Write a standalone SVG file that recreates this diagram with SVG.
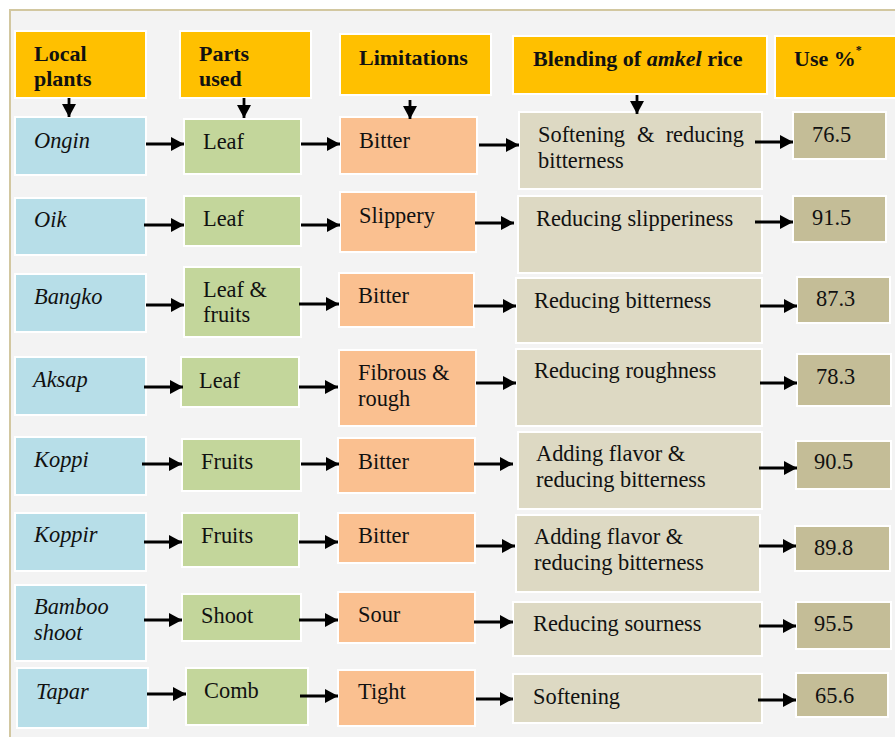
<svg xmlns="http://www.w3.org/2000/svg" width="895" height="737" viewBox="0 0 895 737">
<defs>
<marker id="ah" markerUnits="userSpaceOnUse" markerWidth="14" markerHeight="14" refX="13" refY="7" orient="auto">
<path d="M0,0 L13,7 L0,14 z" fill="#000"/>
</marker>
<style>
rect.b{stroke:#fff;stroke-width:2}
.h{fill:#FFC000}
.p{fill:#B7DEE8}
.g{fill:#C3D69B}
.o{fill:#FAC090}
.e{fill:#DDD9C3}
.u{fill:#C4BD97}
text{font-family:"Liberation Serif","Times New Roman",serif;font-size:22.4px;fill:#111}
text.hd{font-weight:bold;font-size:22px}
text.it{font-style:italic}
#conn line{stroke:#000;stroke-width:2.8;marker-end:url(#ah)}
</style>
</defs>
<rect x="0" y="0" width="895" height="737" fill="#fff"/>
<rect x="10" y="10" width="900" height="740" fill="#F3F3F3" stroke="#D2C7A0" stroke-width="2"/>

<g id="h-local"><rect class="b h" x="15" y="31" width="131" height="67"/><text class="hd" x="34" y="61">Local</text><text class="hd" x="34" y="86">plants</text></g>
<g id="h-parts"><rect class="b h" x="180" y="31" width="131" height="67"/><text class="hd" x="199" y="61">Parts</text><text class="hd" x="199" y="86">used</text></g>
<g id="h-lim"><rect class="b h" x="340" y="34" width="151" height="61"/><text class="hd" x="359" y="65">Limitations</text></g>
<g id="h-blend"><rect class="b h" x="513" y="36" width="254" height="58"/><text class="hd" x="533" y="66">Blending of <tspan font-style="italic">amkel</tspan> rice</text></g>
<g id="h-use"><rect class="b h" x="775" y="36" width="130" height="62"/><text class="hd" x="794" y="66">Use %<tspan font-size="12" dy="-12">*</tspan></text></g>

<g id="r1-plant"><rect class="b p" x="15" y="117" width="131" height="58"/><text class="it" x="34" y="148">Ongin</text></g>
<g id="r1-part"><rect class="b g" x="184" y="119" width="117" height="55"/><text x="203" y="149">Leaf</text></g>
<g id="r1-lim"><rect class="b o" x="340" y="117" width="137" height="57"/><text x="359" y="148">Bitter</text></g>
<g id="r1-blend"><rect class="b e" x="519" y="112" width="243" height="77"/><text x="538" y="142">Softening</text><text x="637" y="142">&amp;</text><text x="744" y="142" text-anchor="end">reducing</text><text x="538" y="168">bitterness</text></g>
<g id="r1-use"><rect class="b u" x="793" y="112" width="93" height="47"/><text x="812" y="142">76.5</text></g>

<g id="r2-plant"><rect class="b p" x="15" y="198" width="131" height="57"/><text class="it" x="34" y="227">Oik</text></g>
<g id="r2-part"><rect class="b g" x="184" y="196" width="117" height="50"/><text x="203" y="226">Leaf</text></g>
<g id="r2-lim"><rect class="b o" x="340" y="192" width="136" height="60"/><text x="359" y="223">Slippery</text></g>
<g id="r2-blend"><rect class="b e" x="518" y="196" width="244" height="77"/><text x="536" y="226">Reducing slipperiness</text></g>
<g id="r2-use"><rect class="b u" x="793" y="196" width="93" height="46"/><text x="812" y="225">91.5</text></g>

<g id="r3-plant"><rect class="b p" x="15" y="274" width="131" height="58"/><text class="it" x="34" y="304">Bangko</text></g>
<g id="r3-part"><rect class="b g" x="184" y="267" width="117" height="70"/><text x="203" y="297">Leaf &amp;</text><text x="203" y="322">fruits</text></g>
<g id="r3-lim"><rect class="b o" x="339" y="273" width="135" height="54"/><text x="358" y="303">Bitter</text></g>
<g id="r3-blend"><rect class="b e" x="516" y="278" width="246" height="65"/><text x="534" y="308">Reducing bitterness</text></g>
<g id="r3-use"><rect class="b u" x="797" y="277" width="93" height="46"/><text x="816" y="306">87.3</text></g>

<g id="r4-plant"><rect class="b p" x="15" y="357" width="131" height="58"/><text class="it" x="33" y="387">Aksap</text></g>
<g id="r4-part"><rect class="b g" x="181" y="357" width="118" height="50"/><text x="199" y="388">Leaf</text></g>
<g id="r4-lim"><rect class="b o" x="339" y="350" width="137" height="76"/><text x="358" y="380">Fibrous &amp;</text><text x="358" y="406">rough</text></g>
<g id="r4-blend"><rect class="b e" x="516" y="349" width="246" height="77"/><text x="534" y="378">Reducing roughness</text></g>
<g id="r4-use"><rect class="b u" x="797" y="354" width="94" height="52"/><text x="816" y="384">78.3</text></g>

<g id="r5-plant"><rect class="b p" x="15" y="437" width="131" height="58"/><text class="it" x="34" y="467">Koppi</text></g>
<g id="r5-part"><rect class="b g" x="182" y="439" width="119" height="52"/><text x="201" y="469">Fruits</text></g>
<g id="r5-lim"><rect class="b o" x="338" y="438" width="137" height="55"/><text x="358" y="469">Bitter</text></g>
<g id="r5-blend"><rect class="b e" x="518" y="432" width="244" height="77"/><text x="536" y="461">Adding flavor &amp;</text><text x="536" y="487">reducing bitterness</text></g>
<g id="r5-use"><rect class="b u" x="796" y="441" width="95" height="48"/><text x="814" y="469">90.5</text></g>

<g id="r6-plant"><rect class="b p" x="15" y="513" width="131" height="58"/><text class="it" x="34" y="542">Koppir</text></g>
<g id="r6-part"><rect class="b g" x="182" y="513" width="117" height="54"/><text x="201" y="543">Fruits</text></g>
<g id="r6-lim"><rect class="b o" x="338" y="513" width="137" height="50"/><text x="358" y="543">Bitter</text></g>
<g id="r6-blend"><rect class="b e" x="516" y="515" width="244" height="77"/><text x="534" y="544">Adding flavor &amp;</text><text x="534" y="570">reducing bitterness</text></g>
<g id="r6-use"><rect class="b u" x="795" y="526" width="95" height="45"/><text x="814" y="555">89.8</text></g>

<g id="r7-plant"><rect class="b p" x="15" y="585" width="131" height="76"/><text class="it" x="34" y="614">Bamboo</text><text class="it" x="34" y="640">shoot</text></g>
<g id="r7-part"><rect class="b g" x="182" y="594" width="119" height="47"/><text x="201" y="623">Shoot</text></g>
<g id="r7-lim"><rect class="b o" x="338" y="592" width="137" height="51"/><text x="358" y="622">Sour</text></g>
<g id="r7-blend"><rect class="b e" x="513" y="602" width="249" height="54"/><text x="533" y="631">Reducing sourness</text></g>
<g id="r7-use"><rect class="b u" x="796" y="602" width="95" height="47"/><text x="814" y="631">95.5</text></g>

<g id="r8-plant"><rect class="b p" x="17" y="668" width="131" height="60"/><text class="it" x="36" y="699">Tapar</text></g>
<g id="r8-part"><rect class="b g" x="186" y="668" width="122" height="57"/><text x="204" y="698">Comb</text></g>
<g id="r8-lim"><rect class="b o" x="338" y="670" width="137" height="56"/><text x="358" y="699">Tight</text></g>
<g id="r8-blend"><rect class="b e" x="513" y="674" width="249" height="49"/><text x="533" y="704">Softening</text></g>
<g id="r8-use"><rect class="b u" x="796" y="673" width="92" height="44"/><text x="815" y="703">65.6</text></g>

<g id="conn">
<line x1="69" y1="98" x2="69" y2="117"/>
<line x1="244" y1="98" x2="244" y2="118"/>
<line x1="410" y1="100" x2="410" y2="119"/>
<line x1="637" y1="95" x2="637" y2="114"/>

<line x1="146" y1="144" x2="184" y2="144"/>
<line x1="301" y1="144" x2="340" y2="144"/>
<line x1="479" y1="145" x2="519" y2="145"/>
<line x1="755" y1="142" x2="793" y2="142"/>

<line x1="144" y1="225" x2="184" y2="225"/>
<line x1="301" y1="225" x2="340" y2="225"/>
<line x1="475" y1="223" x2="514" y2="223"/>
<line x1="755" y1="222" x2="793" y2="222"/>

<line x1="146" y1="305" x2="184" y2="305"/>
<line x1="299" y1="304" x2="339" y2="304"/>
<line x1="474" y1="306" x2="516" y2="306"/>
<line x1="760" y1="306" x2="797" y2="306"/>

<line x1="144" y1="387" x2="183" y2="387"/>
<line x1="299" y1="387" x2="338" y2="387"/>
<line x1="476" y1="383" x2="516" y2="383"/>
<line x1="760" y1="383" x2="797" y2="383"/>

<line x1="142" y1="464" x2="182" y2="464"/>
<line x1="301" y1="464" x2="339" y2="464"/>
<line x1="474" y1="464" x2="513" y2="464"/>
<line x1="759" y1="468" x2="797" y2="468"/>

<line x1="144" y1="542" x2="182" y2="542"/>
<line x1="299" y1="542" x2="338" y2="542"/>
<line x1="476" y1="546" x2="515" y2="546"/>
<line x1="759" y1="546" x2="796" y2="546"/>

<line x1="144" y1="620" x2="182" y2="620"/>
<line x1="299" y1="620" x2="338" y2="620"/>
<line x1="474" y1="622" x2="513" y2="622"/>
<line x1="759" y1="626" x2="796" y2="626"/>

<line x1="147" y1="694" x2="186" y2="694"/>
<line x1="300" y1="696" x2="338" y2="696"/>
<line x1="476" y1="699" x2="513" y2="699"/>
<line x1="758" y1="700" x2="796" y2="700"/>
</g>
</svg>
